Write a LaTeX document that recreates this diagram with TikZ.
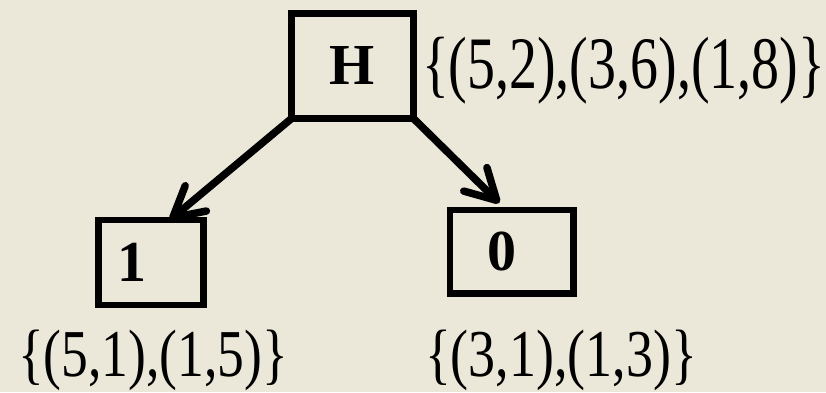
\documentclass[tikz,border=0pt]{standalone}
\usepackage{fontspec}
\setmainfont{Liberation Serif}
\usetikzlibrary{arrows.meta,calc}
\definecolor{bgc}{RGB}{235,232,218}
\tikzset{
  box/.style={draw=black, line width=6.5pt, rectangle, inner sep=0pt, outer sep=0pt,
    font=\fontsize{58}{62}\selectfont\bfseries, text=black},
  arr/.style={draw=black, line width=7.5pt, line cap=round,
    -{Straight Barb[length=30pt,width=33pt,round]}},
  setlabel/.style={inner sep=0pt, outer sep=0pt, anchor=base west, text=black}
}
\begin{document}
\begin{tikzpicture}[x=1pt,y=-1pt]
\fill[bgc] (0,0) rectangle (826,392);
\useasboundingbox (0,0) rectangle (826,392);
\node[box, minimum width=122pt, minimum height=105pt] (H) at (352.5,66) {\raisebox{-7.5pt}{H}};
\node[box, minimum width=105pt, minimum height=85pt] (b1) at (151,262.5) {\raisebox{-7.5pt}{\makebox[0pt]{\kern-38pt 1}}};
\node[box, minimum width=123.5pt, minimum height=83.5pt] (b0) at (511.75,251.75) {\raisebox{-3pt}{\makebox[0pt]{\kern-20pt 0}}};
\coordinate (t1) at ($(b1.north west)!0.68!(b1.north east)$);
\coordinate (t0) at ($(b0.north west)!0.40!(b0.north east)+(0,-7)$);
\draw[arr] (H.south west) -- (t1);
\draw[arr] (H.south east) -- (t0);
\node[setlabel, font=\fontsize{74}{78}\selectfont] (sH) at (422,88) {\resizebox{403pt}{\height}{\{(5,2),(3,6),(1,8)\}}};
\node[setlabel, font=\fontsize{67}{72}\selectfont] (s1) at (18,376.5) {\resizebox{270pt}{\height}{\{(5,1),(1,5)\}}};
\node[setlabel, font=\fontsize{67}{72}\selectfont] (s0) at (425,376.5) {\resizebox{272pt}{\height}{\{(3,1),(1,3)\}}};
\end{tikzpicture}
\end{document}
